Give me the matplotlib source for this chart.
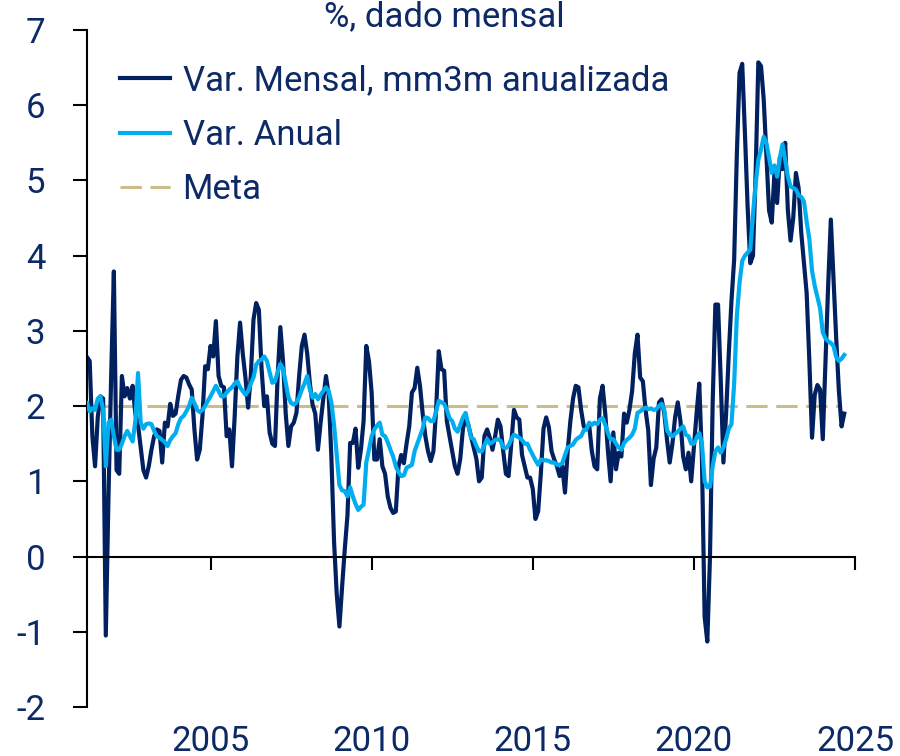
import matplotlib
matplotlib.use("Agg")
import matplotlib.pyplot as plt
import numpy as np
import pandas as pd

# monthly data, Mar 2001 .. Sep 2024
start = "2001-03"

# Var. Mensal, mm3m anualizada (%)
mensal = [
    2.65, 2.6, 1.6, 1.2, 1.85, 2.13, 2.1, -1.05, 0.8, 2.4,                  # 2001 (Mar-Dec)
    3.79, 1.15, 1.1, 2.4, 2.13, 2.24, 2.1, 2.27, 1.9, 1.75, 1.45, 1.15,      # 2002
    1.05, 1.2, 1.42, 1.6, 1.69, 1.67, 1.25, 1.78, 1.73, 2.03, 1.87, 1.9,     # 2003
    2.14, 2.35, 2.4, 2.38, 2.29, 2.22, 1.69, 1.29, 1.42, 1.87, 2.53, 2.49,   # 2004
    2.8, 2.66, 3.13, 2.4, 2.27, 2.25, 1.6, 1.69, 1.2, 1.87, 2.66, 3.11,      # 2005
    2.7, 2.38, 1.98, 2.4, 3.15, 3.37, 3.28, 2.5, 2.0, 2.13, 1.65, 1.5,       # 2006
    1.47, 2.4, 3.05, 2.6, 1.9, 1.47, 1.73, 1.78, 1.91, 2.4, 2.8, 2.95,       # 2007
    2.7, 2.3, 2.02, 1.9, 1.42, 1.78, 2.1, 2.4, 2.15, 1.33, 0.2, -0.5,        # 2008
    -0.93, -0.4, 0.1, 0.55, 1.51, 1.51, 1.7, 1.18, 1.42, 1.8, 2.8, 2.6,      # 2009
    2.18, 1.29, 1.29, 1.56, 1.2, 1.1, 0.8, 0.65, 0.58, 0.6, 1.2, 1.35,       # 2010
    1.24, 1.5, 1.73, 2.18, 2.24, 2.51, 2.27, 1.9, 1.6, 1.4, 1.27, 1.4,       # 2011
    1.95, 2.73, 2.49, 2.47, 1.8, 1.6, 1.4, 1.2, 1.1, 1.3, 1.7, 1.85,         # 2012
    1.75, 1.6, 1.45, 1.3, 1.0, 1.05, 1.6, 1.69, 1.58, 1.42, 1.6, 1.82,       # 2013
    1.73, 1.4, 1.1, 1.07, 1.5, 1.95, 1.85, 1.82, 1.35, 1.2, 1.05, 1.05,      # 2014
    0.9, 0.5, 0.6, 1.1, 1.7, 1.85, 1.72, 1.4, 1.29, 1.2, 1.07, 1.2,          # 2015
    0.85, 1.4, 1.8, 2.1, 2.27, 2.25, 1.95, 1.73, 1.69, 1.75, 1.4, 1.2,       # 2016
    1.16, 2.1, 2.27, 1.9, 1.4, 1.0, 1.65, 1.16, 1.38, 1.33, 1.9, 1.78,       # 2017
    1.95, 2.2, 2.7, 2.95, 2.38, 2.33, 1.95, 1.68, 0.95, 1.3, 1.45, 2.05,     # 2018
    2.09, 1.9, 1.55, 1.25, 1.5, 1.85, 2.05, 1.8, 1.33, 1.16, 1.38, 1.0,      # 2019
    1.45, 1.9, 2.3, 1.3, -0.8, -1.13, 0.0, 2.05, 3.35, 3.35, 2.35, 1.25,     # 2020
    1.9, 2.7, 3.4, 3.95, 5.35, 6.43, 6.55, 5.64, 4.66, 3.9, 4.0, 5.1,        # 2021
    6.57, 6.52, 6.08, 5.35, 4.6, 4.44, 5.1, 4.7, 5.3, 5.15, 5.5, 4.6,        # 2022
    4.2, 4.5, 5.1, 4.9, 4.3, 3.9, 3.5, 2.6, 1.58, 2.15, 2.28, 2.22,          # 2023
    1.56, 2.6, 3.6, 4.48, 3.7, 2.9, 2.2, 1.73, 1.9,                          # 2024 (Jan-Sep)
]

# Var. Anual (%)
anual = [
    2.04, 1.93, 1.97, 1.95, 2.1, 2.13, 1.95, 1.2, 1.78, 1.82,                # 2001
    1.6, 1.42, 1.42, 1.5, 1.6, 1.67, 1.6, 1.53, 1.8, 2.44, 1.78, 1.7,        # 2002
    1.76, 1.77, 1.76, 1.67, 1.6, 1.58, 1.55, 1.52, 1.47, 1.55, 1.6, 1.64,    # 2003
    1.76, 1.84, 1.87, 1.93, 2.0, 2.11, 2.04, 1.95, 1.92, 1.95, 2.0, 2.07,    # 2004
    2.13, 2.2, 2.27, 2.2, 2.13, 2.13, 2.18, 2.22, 2.25, 2.3, 2.33, 2.25,     # 2005
    2.2, 2.15, 2.2, 2.3, 2.38, 2.55, 2.6, 2.62, 2.66, 2.6, 2.45, 2.31,       # 2006
    2.33, 2.45, 2.56, 2.5, 2.31, 2.12, 2.04, 2.02, 2.05, 2.12, 2.22, 2.3,    # 2007
    2.4, 2.22, 2.11, 2.16, 2.09, 2.15, 2.2, 2.25, 2.2, 2.05, 1.75, 1.35,     # 2008
    0.95, 0.88, 0.87, 0.8, 0.92, 0.8, 0.7, 0.62, 0.66, 0.69, 1.25, 1.42,     # 2009
    1.6, 1.69, 1.74, 1.78, 1.62, 1.6, 1.52, 1.42, 1.33, 1.2, 1.12, 1.07,     # 2010
    1.08, 1.18, 1.2, 1.22, 1.4, 1.5, 1.6, 1.7, 1.85, 1.84, 1.8, 1.8,         # 2011
    1.93, 2.07, 2.05, 2.03, 1.95, 1.84, 1.8, 1.7, 1.66, 1.75, 1.85, 1.91,    # 2012
    1.75, 1.58, 1.56, 1.47, 1.4, 1.4, 1.48, 1.56, 1.5, 1.52, 1.55, 1.56,     # 2013
    1.54, 1.45, 1.44, 1.48, 1.56, 1.62, 1.6, 1.58, 1.55, 1.5, 1.5, 1.42,     # 2014
    1.35, 1.28, 1.22, 1.29, 1.28, 1.28, 1.27, 1.25, 1.25, 1.22, 1.22, 1.24,  # 2015
    1.35, 1.45, 1.47, 1.49, 1.55, 1.58, 1.6, 1.68, 1.69, 1.78, 1.75, 1.78,   # 2016
    1.76, 1.82, 1.84, 1.75, 1.64, 1.56, 1.56, 1.5, 1.45, 1.42, 1.51, 1.55,   # 2017
    1.58, 1.62, 1.7, 1.91, 1.93, 1.96, 1.98, 1.96, 1.97, 1.95, 1.96, 2.0,    # 2018
    2.03, 1.95, 1.68, 1.62, 1.6, 1.63, 1.66, 1.7, 1.73, 1.62, 1.6, 1.5,      # 2019
    1.5, 1.58, 1.64, 1.5, 1.0, 0.92, 0.93, 1.2, 1.4, 1.45, 1.38, 1.45,       # 2020
    1.56, 1.7, 1.76, 2.3, 3.2, 3.64, 3.93, 4.0, 4.04, 4.08, 4.55, 4.95,      # 2021
    5.27, 5.41, 5.58, 5.5, 5.3, 5.1, 5.2, 5.05, 5.3, 5.48, 5.28, 5.05,       # 2022
    4.92, 4.9, 4.88, 4.8, 4.78, 4.72, 4.45, 4.22, 3.8, 3.6, 3.45, 3.3,       # 2023
    2.98, 2.9, 2.86, 2.84, 2.8, 2.65, 2.6, 2.63, 2.68,                       # 2024
]

meta = 2.0
meta_end = "2024-07"

yticks = [-2, -1, 0, 1, 2, 3, 4, 5, 6, 7]
xticks = [2005, 2010, 2015, 2020, 2025]

dates = pd.date_range(start, periods=len(mensal), freq="MS")
x = dates.year + (dates.month - 1) / 12.0
meta_mask = dates <= pd.Timestamp(meta_end)

navy = "#002060"
light = "#00aeef"
tan = "#cbbd8a"
txt = "#0d2a66"
fnt = ["Roboto", "DejaVu Sans"]
fs = 25

plt.rcParams["font.family"] = fnt

fig = plt.figure(figsize=(9, 7.56), dpi=100)
ax = fig.add_axes([87 / 900, 1 - 707 / 756, (855 - 87) / 900, (707 - 30) / 756])

ax.plot(x[meta_mask], [meta] * int(meta_mask.sum()), color=tan, lw=2.2,
        dashes=(7, 2.8), label="Meta", zorder=1)
ax.plot(x, mensal, color=navy, lw=3, label="Var. Mensal, mm3m anualizada", zorder=2)
ax.plot(x, anual, color=light, lw=3, label="Var. Anual", zorder=3)

ax.set_xlim(x[0], 2025)
ax.set_ylim(-2, 7)
ax.set_yticks(yticks)
ax.set_xticks(xticks)
ax.set_yticklabels([str(v) for v in yticks])
ax.set_xticklabels([str(v) for v in xticks])

for s in ["top", "right"]:
    ax.spines[s].set_visible(False)
ax.spines["bottom"].set_position(("data", 0))
for s in ["left", "bottom"]:
    ax.spines[s].set_linewidth(1.5)
    ax.spines[s].set_color("black")

ax.tick_params(axis="y", direction="out", length=10, width=1.5, pad=20,
               labelsize=fs, labelcolor=txt)
ax.tick_params(axis="x", direction="out", length=9, width=1.5, pad=112,
               labelsize=fs, labelcolor=txt)

h, l = ax.get_legend_handles_labels()
order = [1, 2, 0]
leg = ax.legend([h[i] for i in order], [l[i] for i in order],
                loc="upper left", bbox_to_anchor=(0.025, 0.97), frameon=False,
                fontsize=fs, handlelength=1.45, handletextpad=0.35,
                labelspacing=0.62, borderaxespad=0)
for t in leg.get_texts():
    t.set_color(txt)

# title sits at the very top edge, kept just inside the figure
fig.text(0.494, 1 - 26 / 756, "%, dado mensal", ha="center", va="baseline",
         fontsize=fs, color=txt)

fig.savefig("out.png", dpi=100)
